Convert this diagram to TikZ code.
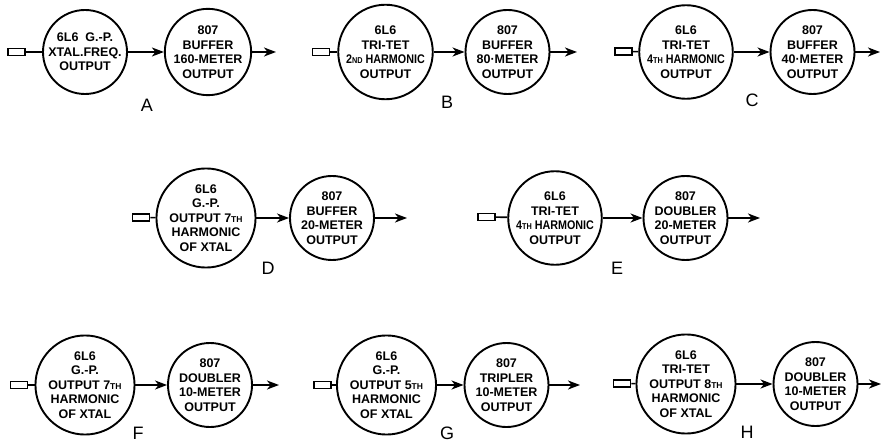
\documentclass[tikz,border=0pt]{standalone}
\usepackage{fontspec}
\setmainfont{Liberation Sans}
\usetikzlibrary{arrows.meta}
\newcommand\sm[1]{{\fontsize{8.5}{8.5}\selectfont #1}}
\newcommand\nar[1]{\scalebox{0.86}[1]{#1}}
\begin{document}
\begin{tikzpicture}[x=1pt,y=-1pt,
  tube/.style={circle,draw,line width=1.9pt,minimum size=84pt,inner sep=0pt,align=center,
    font=\bfseries\fontsize{12.5}{14.5}\selectfont},
  xtal/.style={rectangle,draw,line width=1.8pt,minimum width=17pt,minimum height=7pt,inner sep=0pt},
  wire/.style={line width=1.6pt},
  arr/.style={line width=1.6pt,-{Stealth[length=12pt,width=9pt,inset=3.5pt]}},
  lab/.style={inner sep=0pt,font=\fontsize{18}{18}\selectfont}]
\useasboundingbox (0,0) rectangle (882,443);
% A
\node[tube] (A1) at (85,52) {6L6\ \ G.-P.\\XTAL.FREQ.\\OUTPUT};
\node[tube] (A2) at (208,52) {807\\BUFFER\\160-METER\\OUTPUT};
\node[xtal] (Ax) at (16.5,52) {};
\coordinate (Ao) at (276,52);
\draw[wire] (Ax) -- (A1);
\draw[arr] (A1) -- (A2);
\draw[arr] (A2) -- (Ao);
\node[lab] (Al) at (147,105) {A};
% B
\node[tube] (B1) at (385.5,52) {6L6\\TRI-TET\\\nar{2\sm{ND} HARMONIC}\\OUTPUT};
\node[tube] (B2) at (507.5,52) {807\\BUFFER\\80·METER\\OUTPUT};
\node[xtal] (Bx) at (321,52) {};
\coordinate (Bo) at (577,52);
\draw[wire] (Bx) -- (B1);
\draw[arr] (B1) -- (B2);
\draw[arr] (B2) -- (Bo);
\node[lab] (Bl) at (447,102) {B};
% C
\node[tube] (C1) at (686,52) {6L6\\TRI-TET\\\nar{4\sm{TH} HARMONIC}\\OUTPUT};
\node[tube] (C2) at (812.5,52) {807\\BUFFER\\40·METER\\OUTPUT};
\node[xtal] (Cx) at (623.5,51.5) {};
\coordinate (Co) at (880,52);
\draw[wire] (Cx) -- (C1);
\draw[arr] (C1) -- (C2);
\draw[arr] (C2) -- (Co);
\node[lab] (Cl) at (752,100) {C};
% D
\node[tube] (D1) at (206,218) {6L6\\G.-P.\\OUTPUT 7\sm{TH}\\HARMONIC\\OF XTAL};
\node[tube] (D2) at (332,218) {807\\BUFFER\\20-METER\\OUTPUT};
\node[xtal] (Dx) at (141,217.5) {};
\coordinate (Do) at (407,218);
\draw[wire] (Dx) -- (D1);
\draw[arr] (D1) -- (D2);
\draw[arr] (D2) -- (Do);
\node[lab] (Dl) at (268,268) {D};
% E
\node[tube] (E1) at (555,218) {6L6\\TRI-TET\\\nar{4\sm{TH} HARMONIC}\\OUTPUT};
\node[tube] (E2) at (685.5,218) {807\\DOUBLER\\20-METER\\OUTPUT};
\node[xtal] (Ex) at (486.5,217) {};
\coordinate (Eo) at (760,218);
\draw[wire] (Ex) -- (E1);
\draw[arr] (E1) -- (E2);
\draw[arr] (E2) -- (Eo);
\node[lab] (El) at (617,268) {E};
% F
\node[tube] (F1) at (85,385) {6L6\\G.-P.\\OUTPUT 7\sm{TH}\\HARMONIC\\OF XTAL};
\node[tube] (F2) at (210,385) {807\\DOUBLER\\10-METER\\OUTPUT};
\node[xtal] (Fx) at (19,385) {};
\coordinate (Fo) at (279,385);
\draw[wire] (Fx) -- (F1);
\draw[arr] (F1) -- (F2);
\draw[arr] (F2) -- (Fo);
\node[lab] (Fl) at (138,433) {F};
% G
\node[tube] (G1) at (386.5,385) {6L6\\G.-P.\\OUTPUT 5\sm{TH}\\HARMONIC\\OF XTAL};
\node[tube] (G2) at (506.5,385) {807\\TRIPLER\\10-METER\\OUTPUT};
\node[xtal] (Gx) at (322.5,385) {};
\coordinate (Go) at (580,385);
\draw[wire] (Gx) -- (G1);
\draw[arr] (G1) -- (G2);
\draw[arr] (G2) -- (Go);
\node[lab] (Gl) at (447,433) {G};
% H
\node[tube] (H1) at (686,384) {6L6\\TRI-TET\\OUTPUT 8\sm{TH}\\HARMONIC\\OF XTAL};
\node[tube] (H2) at (815.5,384) {807\\DOUBLER\\10-METER\\OUTPUT};
\node[xtal] (Hx) at (622,383.5) {};
\coordinate (Ho) at (881,384);
\draw[wire] (Hx) -- (H1);
\draw[arr] (H1) -- (H2);
\draw[arr] (H2) -- (Ho);
\node[lab] (Hl) at (747,432) {H};
\end{tikzpicture}
\end{document}
